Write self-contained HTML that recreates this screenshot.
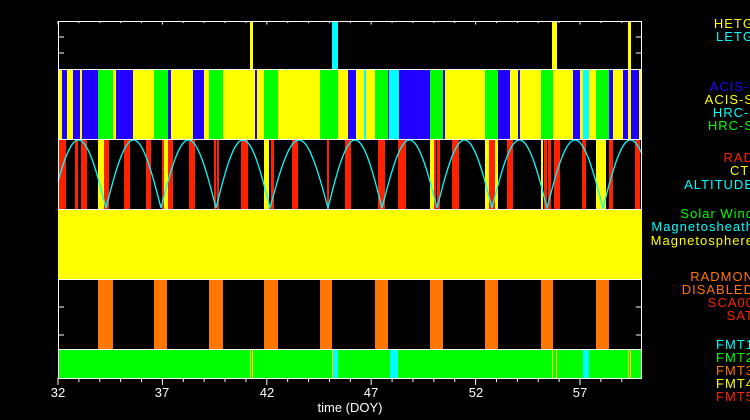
<!DOCTYPE html>
<html><head><meta charset="utf-8"><style>
html,body{margin:0;padding:0;background:#000;width:750px;height:420px;overflow:hidden}
svg text{font-family:"Liberation Sans",sans-serif;font-size:12px}
svg g.leg text{font-size:13px;letter-spacing:1px}
</style></head><body>
<svg id="s" width="750" height="420" xmlns="http://www.w3.org/2000/svg">
<rect width="750" height="420" fill="#000"/>
<g id="g"></g>
<g text-anchor="end" class="leg">
<text x="754" y="28" fill="#ffff00">HETG</text>
<text x="754" y="41" fill="#00ffff">LETG</text>
<text x="754" y="91" fill="#2200ff">ACIS-I</text>
<text x="754" y="104" fill="#ffff00">ACIS-S</text>
<text x="754" y="117" fill="#00ffff">HRC-I</text>
<text x="754" y="130" fill="#00ff00">HRC-S</text>
<text x="754" y="162" fill="#ff2200">RAD</text>
<text x="754" y="175" fill="#ffff00">CTI</text>
<text x="754" y="189" fill="#00ffff">ALTITUDE</text>
<text x="754" y="218" fill="#00ff00">Solar Wind</text>
<text x="754" y="231" fill="#00ffff">Magnetosheath</text>
<text x="754" y="245" fill="#ffff00">Magnetosphere</text>
<text x="754" y="281" fill="#ff7700">RADMON</text>
<text x="754" y="294" fill="#ff7700">DISABLED</text>
<text x="754" y="307" fill="#ff2200">SCA00</text>
<text x="754" y="320" fill="#ff2200">SAT</text>
<text x="754" y="349" fill="#00ffff">FMT1</text>
<text x="754" y="362" fill="#00ff00">FMT2</text>
<text x="754" y="375" fill="#ff7700">FMT3</text>
<text x="754" y="388" fill="#ffff00">FMT4</text>
<text x="754" y="401" fill="#ff2200">FMT5</text>
</g>
<g fill="#fff" text-anchor="middle" style="font-size:13px">
<text x="58" y="397" style="font-size:13px">32</text><text x="162" y="397" style="font-size:13px">37</text><text x="267" y="397" style="font-size:13px">42</text>
<text x="371" y="397" style="font-size:13px">47</text><text x="476" y="397" style="font-size:13px">52</text><text x="580" y="397" style="font-size:13px">57</text>
<text x="350" y="412" style="font-size:13px">time (DOY)</text>
</g>
</svg>
<script>
var g=document.getElementById('g'),h='';
var Y='#ffff00',B='#2200ff',G='#00ff00',C='#00ffff',R='#ff2200',O='#ff7700';
function r(x1,x2,y1,y2,c){h+='<rect x="'+x1+'" y="'+y1+'" width="'+(x2-x1)+'" height="'+(y2-y1)+'" fill="'+c+'"/>';}
r(250,253,21,69,Y);r(332,338,21,69,C);r(552,557,21,69,Y);r(628,631,21,69,Y);
var p2=[[58,62,Y],[62,67,B],[67,73,Y],[73,80,B],[80,82,Y],[82,98,B],[98,113,G],[113,116,Y],[116,133,B],[133,154,Y],[154,168,G],[168,171,B],[171,193,Y],[193,204,B],[204,209,Y],[209,223,G],[223,255,Y],[255,257,B],[257,264,Y],[264,278,G],[278,320,Y],[320,338,G],[338,348,Y],[348,356,B],[356,375,Y],[364,366,C],[375,388,G],[388,389,B],[389,399,C],[399,430,B],[430,443,G],[443,445,B],[445,485,Y],[485,498,G],[498,510,B],[510,518,Y],[518,520,B],[520,541,Y],[541,553,G],[553,573,Y],[573,580,B],[580,583,Y],[583,589,C],[589,596,Y],[596,609,G],[609,613,B],[613,623,Y],[623,628,B],[628,631,Y],[631,639,B],[639,642,Y]];
p2.forEach(function(a){r(a[0],a[1],69,139,a[2]);});
var p3=[[58,66,R],[75,78,R],[81,87,R],[98,104,Y],[104,109,R],[124,130,R],[146,151,R],[162,164,R],[164,168,Y],[168,173,R],[189,195,R],[214,216,R],[217,219,R],[241,248,R],[264,269,Y],[271,274,R],[292,298,R],[327,329,R],[345,351,R],[378,385,R],[398,406,R],[430,434,Y],[434,436,R],[437,440,R],[452,459,R],[485,489,Y],[489,495,R],[495,498,Y],[507,513,R],[541,543,Y],[544,547,R],[548,551,R],[554,560,R],[582,586,R],[596,606,Y],[609,613,R],[635,640,R]];
p3.forEach(function(a){r(a[0],a[1],139,209,a[2]);});
r(58,642,209,279,Y);
[98,154,209,264,320,375,430,485,541,596].forEach(function(x,i){var w=[15,13,14,14,12,13,13,13,12,13][i];r(x,x+w,280,349,O);});
r(58,642,350,378,G);
[[250,251,Y],[252,253,Y],[332,333,Y],[333,338,C],[390,398,C],[552,553,Y],[556,557,Y],[583,589,C],[628,629,Y],[630,631,Y]].forEach(function(a){r(a[0],a[1],350,378,a[2]);});
var tr=[51,106,161,216,270,328,382,437,492,547,603,658],pts=[];
for(var x=58;x<=642;x++){var k=0;while(tr[k+1]<x)k++;var a=tr[k],b=tr[k+1];var t=(x-a)/(b-a);var y=208-68*Math.sin(Math.PI*t);pts.push(x+','+y.toFixed(1));}
h+='<polyline points="'+pts.join(' ')+'" fill="none" stroke="#00ffff" stroke-width="1.3"/>';
[[21,69],[69,139],[139,209],[279,349],[349,378]].forEach(function(a){h+='<rect x="58.5" y="'+(a[0]+.5)+'" width="583" height="'+(a[1]-a[0])+'" fill="none" stroke="#fff" stroke-width="1"/>';});
[37,53,307,335].forEach(function(y){h+='<line x1="58" x2="64" y1="'+y+'" y2="'+y+'" stroke="#fff"/><line x1="636" x2="642" y1="'+y+'" y2="'+y+'" stroke="#fff"/>';});
for(var d=32;d<=60;d++){var x=58+(d-32)*20.88;if(x>642)break;var L=((d-32)%5==0)?7:4;h+='<line x1="'+x+'" x2="'+x+'" y1="378" y2="'+(378+L)+'" stroke="#fff"/>';h+='<line x1="'+x+'" x2="'+x+'" y1="21" y2="'+(21+L/2)+'" stroke="#fff"/>';}
g.innerHTML=h;
</script>
</body></html>
